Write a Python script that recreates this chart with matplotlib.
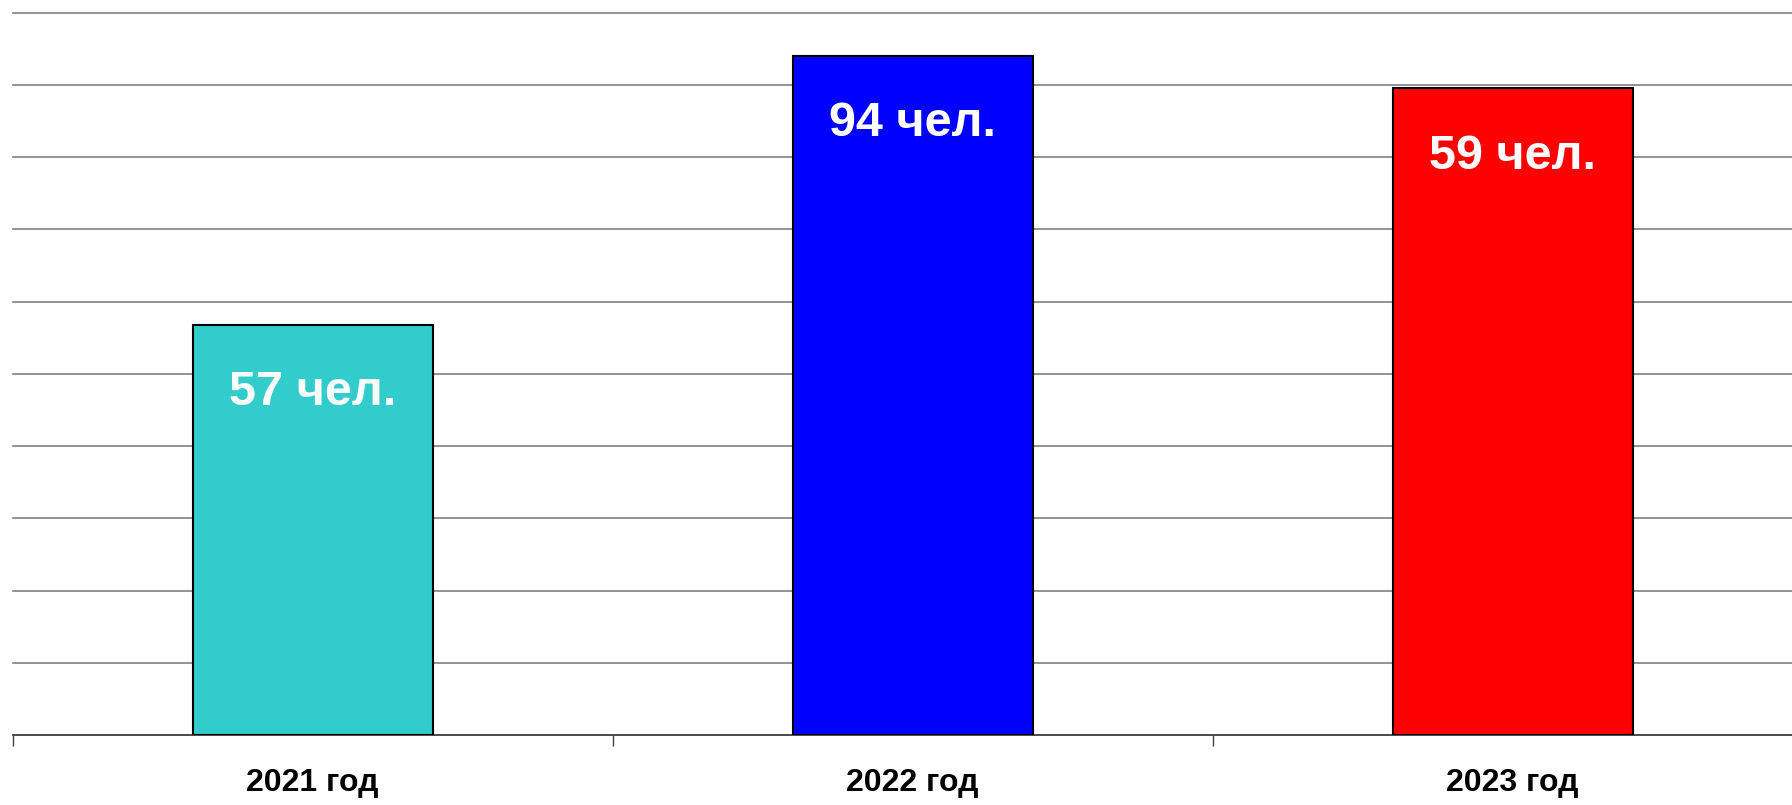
import matplotlib
matplotlib.use("Agg")
import matplotlib.pyplot as plt

# data
years = ["2021 год", "2022 год", "2023 год"]
heights = [56.8, 94.0, 89.5]
labels = ["57 чел.", "94 чел.", "59 чел."]
colors = ["#33CCCC", "#0000FF", "#FF0000"]

plt.rcParams['font.family'] = ['Liberation Sans', 'DejaVu Sans']

fig = plt.figure(figsize=(17.92, 8.05), dpi=100)
ax = fig.add_axes([12.6 / 1792, 70 / 805, 1800 / 1792, 722.4 / 805])

x = range(len(years))
bars = ax.bar(x, heights, width=0.4, color=colors, edgecolor="black",
              linewidth=1.5, zorder=3)

for b, lab in zip(bars, labels):
    ax.annotate(lab, (b.get_x() + b.get_width() / 2, b.get_height()),
                xytext=(0, -58), textcoords="offset points",
                ha="center", va="baseline", color="white",
                fontsize=35, fontweight="bold", zorder=4)

ax.set_xlim(-0.5, 2.5)
ax.set_ylim(0, 100)
ax.set_yticks(range(0, 101, 10))
ax.yaxis.grid(True, color="#808080", linewidth=1.2, zorder=0)
for gl in ax.get_ygridlines():
    gl.set_clip_on(False)
ax.tick_params(axis="y", left=False, labelleft=False)

ax.set_xticks([-0.5, 0.5, 1.5, 2.5])
ax.set_xticklabels([])
ax.set_xticks(list(x), minor=True)
ax.set_xticklabels(years, minor=True, fontsize=23, fontweight="bold")
ax.tick_params(axis="x", which="major", length=8, width=1, color="#404040",
               direction="out")
ax.tick_params(axis="x", which="minor", length=0, pad=24)

for s in ["top", "left", "right"]:
    ax.spines[s].set_visible(False)
ax.spines["bottom"].set_color("#404040")
ax.spines["bottom"].set_linewidth(1.2)

fig.savefig("out.png", dpi=100)
